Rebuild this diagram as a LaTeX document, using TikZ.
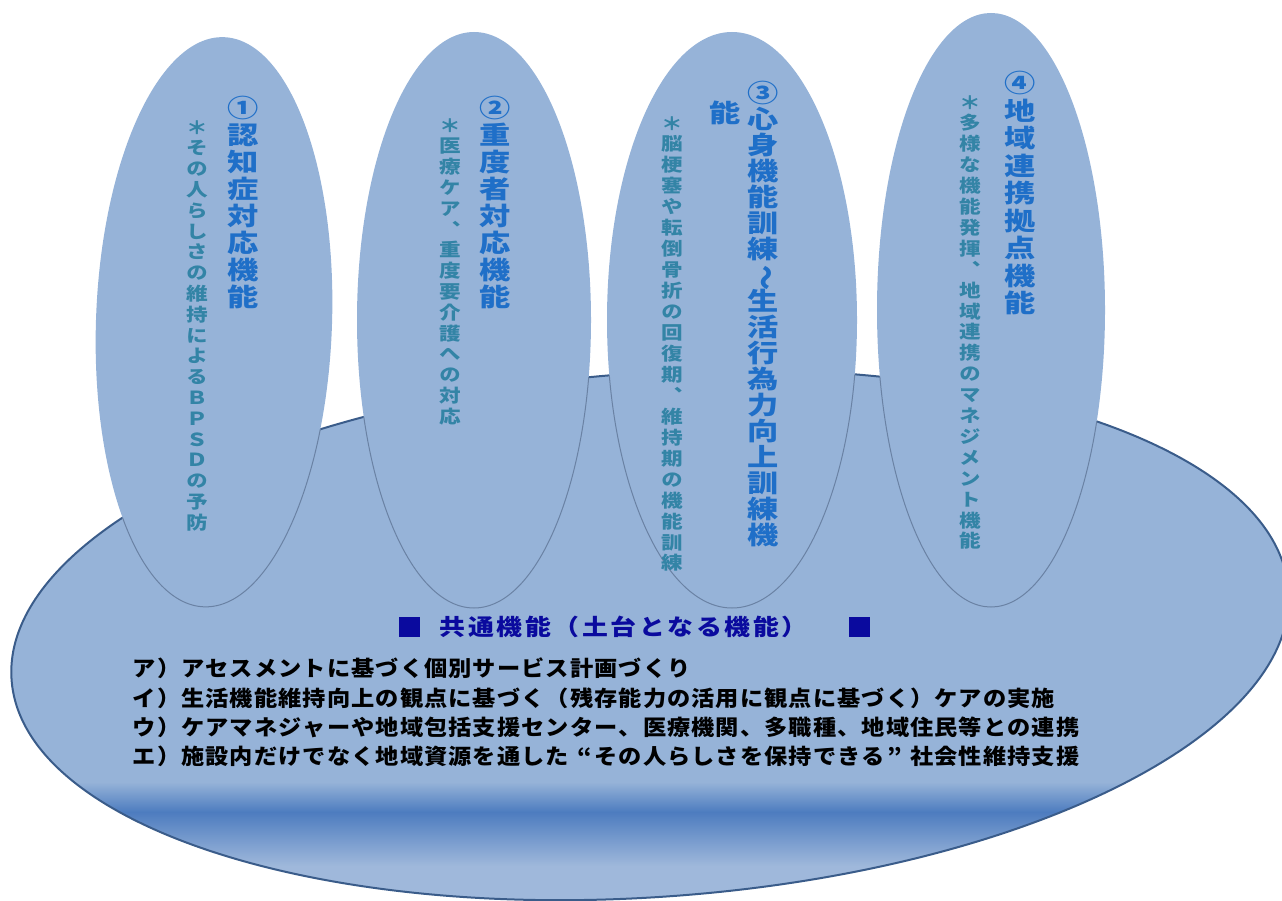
\documentclass[tikz,border=0pt]{standalone}
\usepackage{fontspec}
\usepackage{graphicx}
\newfontfamily\jp{Noto Sans CJK JP}
\newfontfamily\jpv{Noto Sans CJK JP}[RawFeature=+vert]
\definecolor{efill}{HTML}{96B3D8}
\definecolor{eband}{HTML}{4D7CBF}
\definecolor{elow}{HTML}{9FB8DB}
\definecolor{eline}{HTML}{3A5C8A}
\definecolor{sline}{HTML}{6A82A4}
\definecolor{ttlc}{HTML}{1F6FC8}
\definecolor{subc}{HTML}{3384A6}
\definecolor{navyc}{HTML}{0A0A9E}
\ExplSyntaxOn
% vertical stack: #1 pitch, #2 horizontal glyph scale, #3 text
\NewDocumentCommand\tate{mmm}{
  \vbox{\baselineskip=#1\lineskiplimit=-\maxdimen\lineskip=0pt
    \tl_map_inline:nn {#3}{\hbox_to_wd:nn{1.5em}{\hss\rule[-0.12em]{0pt}{1em}\scalebox{#2}[1]{##1}\hss}}}}
% horizontal line with fixed pitch
\NewDocumentCommand\yoko{mmm}{
  \hbox{\tl_map_inline:nn {#3}{\hbox_to_wd:nn{#1}{\hss\rule[-0.12em]{0pt}{1em}\scalebox{#2}[1]{##1}\hss}}}}
\ExplSyntaxOff
\begin{document}
\begin{tikzpicture}[x=1pt,y=-1pt,
  vt/.style={inner sep=0pt, anchor=north},
  ftitle/.style={vt, text=ttlc, font=\jpv\bfseries\fontsize{25}{25}\selectfont},
  fsub/.style={vt, text=subc, font=\jpv\bfseries\fontsize{18}{18}\selectfont},
  fitem/.style={inner sep=0pt, anchor=west, text=black, font=\jp\bfseries\fontsize{21.5}{21.5}\selectfont},
  fhead/.style={inner sep=0pt, anchor=west, text=navyc, font=\jp\bfseries\fontsize{22.5}{22.5}\selectfont},
  sq/.style={fill=navyc, minimum width=21pt, minimum height=20pt, inner sep=0pt},
  small/.style={fill=efill}]
\useasboundingbox (0,0) rectangle (1282,901);
% base ellipse with band
\begin{scope}
  \clip[rotate around={4:(650,635)}] (650,635) ellipse [x radius=640pt, y radius=262pt];
  \fill[efill] (0,300) rectangle (1300,920);
  \shade[top color=efill, bottom color=eband] (0,782) rectangle (1300,812);
  \shade[top color=eband, bottom color=elow] (0,812) rectangle (1300,866);
  \fill[elow] (0,866) rectangle (1300,920);
\end{scope}
\draw[eline, line width=2pt, rotate around={4:(650,635)}] (650,635) ellipse [x radius=640pt, y radius=262pt];
% four vertical ellipses
\fill[small, rotate around={-2:(214,322)}] (214,322) ellipse [x radius=118pt, y radius=285pt];
\fill[small] (474,320) ellipse [x radius=117pt, y radius=288pt];
\fill[small] (732,320) ellipse [x radius=125pt, y radius=288pt];
\fill[small] (991,310) ellipse [x radius=114pt, y radius=297pt];
\begin{scope}
  \clip[rotate around={4:(650,635)}] (650,635) ellipse [x radius=640pt, y radius=262pt];
  \draw[sline, line width=1pt, rotate around={-2:(214,322)}] (214,322) ellipse [x radius=118pt, y radius=285pt];
  \draw[sline, line width=1pt] (474,320) ellipse [x radius=117pt, y radius=288pt];
  \draw[sline, line width=1pt] (732,320) ellipse [x radius=125pt, y radius=288pt];
  \draw[sline, line width=1pt] (991,310) ellipse [x radius=114pt, y radius=297pt];
\end{scope}
% texts in ellipses
\node[ftitle] (t1) at (243,95.5) {\tate{27pt}{1.25}{①認知症対応機能}};
\node[fsub] (s1) at (197,118) {\tate{20.8pt}{1.2}{＊その人らしさの維持によるＢＰＳＤの予防}};
\node[ftitle] (t2) at (495,95.5) {\tate{27pt}{1.25}{②重度者対応機能}};
\node[fsub] (s2) at (450,116) {\tate{20.8pt}{1.2}{＊医療ケア、重度要介護への対応}};
\node[ftitle] (t3) at (763,80.5) {\tate{26pt}{1.25}{③心身機能訓練{\rotatebox[origin=c]{-90}{\jp ～}}生活行為力向上訓練機}};
\node[ftitle] (t3b) at (725,100.5) {\tate{26pt}{1.25}{能}};
\node[fsub] (s3) at (672,114) {\tate{20.95pt}{1.2}{＊脳梗塞や転倒骨折の回復期、維持期の機能訓練}};
\node[ftitle] (t4) at (1020,70.5) {\tate{27.5pt}{1.25}{④地域連携拠点機能}};
\node[fsub] (s4) at (970,93) {\tate{20.9pt}{1.2}{＊多様な機能発揮、地域連携のマネジメント機能}};
% common functions
\node[sq] (sqL) at (409,627) {};
\node[fhead] (head) at (438,627) {\yoko{28.5pt}{1.15}{共通機能（土台となる機能）}};
\node[sq] (sqR) at (859,627) {};
\node[fitem] (la) at (132,668) {\yoko{24.3pt}{1.08}{ア）アセスメントに基づく個別サービス計画づくり}};
\node[fitem] (li) at (132,698) {\yoko{24.3pt}{1.08}{イ）生活機能維持向上の観点に基づく（残存能力の活用に観点に基づく）ケアの実施}};
\node[fitem] (lu) at (132,727) {\yoko{24.3pt}{1.08}{ウ）ケアマネジャーや地域包括支援センター、医療機関、多職種、地域住民等との連携}};
\node[fitem] (le) at (132,756) {\yoko{24.3pt}{1.08}{エ）施設内だけでなく地域資源を通した{\makebox[0.9em][r]{“}}その人らしさを保持できる{\makebox[0.9em][l]{”}}社会性維持支援}};
\end{tikzpicture}
\end{document}
